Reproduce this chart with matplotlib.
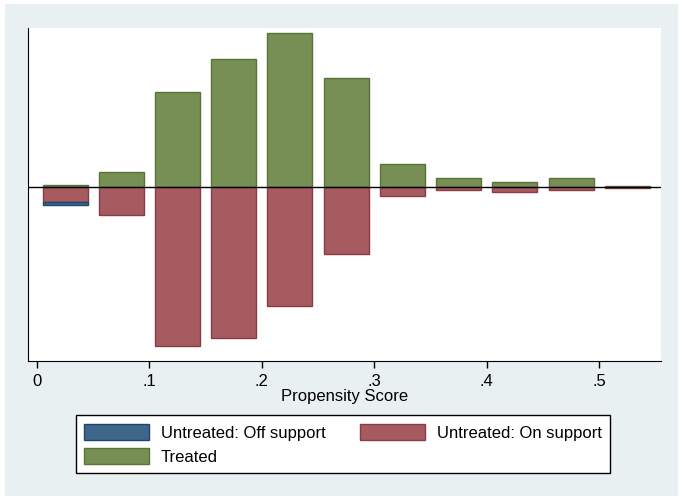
import numpy as np
import matplotlib.pyplot as plt
from matplotlib.patches import Rectangle

# propensity score bins (bar centres) and bar heights
bin_centers = [0.025, 0.075, 0.125, 0.175, 0.225, 0.275, 0.325, 0.375, 0.425, 0.475, 0.525]
treated = [2, 15, 95, 128, 154, 109, 23, 9, 5, 9, 1]
untreated_on = [15, 28, 159, 151, 119, 67, 9, 3, 5, 3, 1]
untreated_off = [3, 0, 0, 0, 0, 0, 0, 0, 0, 0, 0]

xticks = [0, 0.1, 0.2, 0.3, 0.4, 0.5]
xtick_labels = ['0', '.1', '.2', '.3', '.4', '.5']

green_fill, green_edge = '#778f55', '#5a7436'
red_fill, red_edge = '#a65b61', '#8a3a42'
blue_fill, blue_edge = '#3f6589', '#1c4670'
bg = '#e9f0f2'

plt.rcParams['font.family'] = ['Liberation Sans', 'DejaVu Sans']

fig = plt.figure(figsize=(6.85, 5.02), dpi=100, facecolor='white')
# light outer panel like Stata's graph region
fig.patches.append(Rectangle((5 / 685, 5 / 502), 673 / 685, 492 / 502,
                             transform=fig.transFigure, facecolor=bg,
                             edgecolor='none', zorder=-10))

ax = fig.add_axes([28 / 685, 140 / 502, 633 / 685, 333 / 502])
ax.set_facecolor('white')

width = 0.04
x = np.array(bin_centers)
on = -np.array(untreated_on)
off = -np.array(untreated_off)

h_tr = ax.bar(x, treated, width=width, color=green_fill, edgecolor=green_edge,
              linewidth=1, zorder=2)
h_on = ax.bar(x, on, width=width, color=red_fill, edgecolor=red_edge,
              linewidth=1, zorder=2)
h_off = ax.bar(x[off < 0], off[off < 0], bottom=on[off < 0], width=width,
               color=blue_fill, edgecolor=blue_edge, linewidth=1, zorder=2)
ax.axhline(0, color='black', linewidth=1, zorder=3)

ax.set_xlim(-0.008, 0.555)
ax.set_ylim(-174, 159)
ax.spines['top'].set_visible(False)
ax.spines['right'].set_visible(False)
ax.set_yticks([])
ax.set_xticks(xticks)
ax.set_xticklabels(xtick_labels, fontsize=12)
ax.tick_params(axis='x', direction='out', length=5, width=1, pad=4)
ax.set_xlabel('Propensity Score', fontsize=12, labelpad=0)

# column-wise fill: col 1 = off support, treated; col 2 = on support
leg = fig.legend([h_off, h_tr, h_on],
                 ['Untreated: Off support', 'Treated', 'Untreated: On support'],
                 ncol=2, loc='center', bbox_to_anchor=(343 / 685, 1 - 445 / 502),
                 frameon=True, fancybox=False, edgecolor='black', facecolor='white',
                 framealpha=1, fontsize=12, handlelength=3.9, handleheight=1.1,
                 handletextpad=0.7, columnspacing=2.1,
                 borderpad=0.5, labelspacing=0.45)
leg.get_frame().set_linewidth(1)

fig.savefig('out.png', dpi=100, facecolor='white')
